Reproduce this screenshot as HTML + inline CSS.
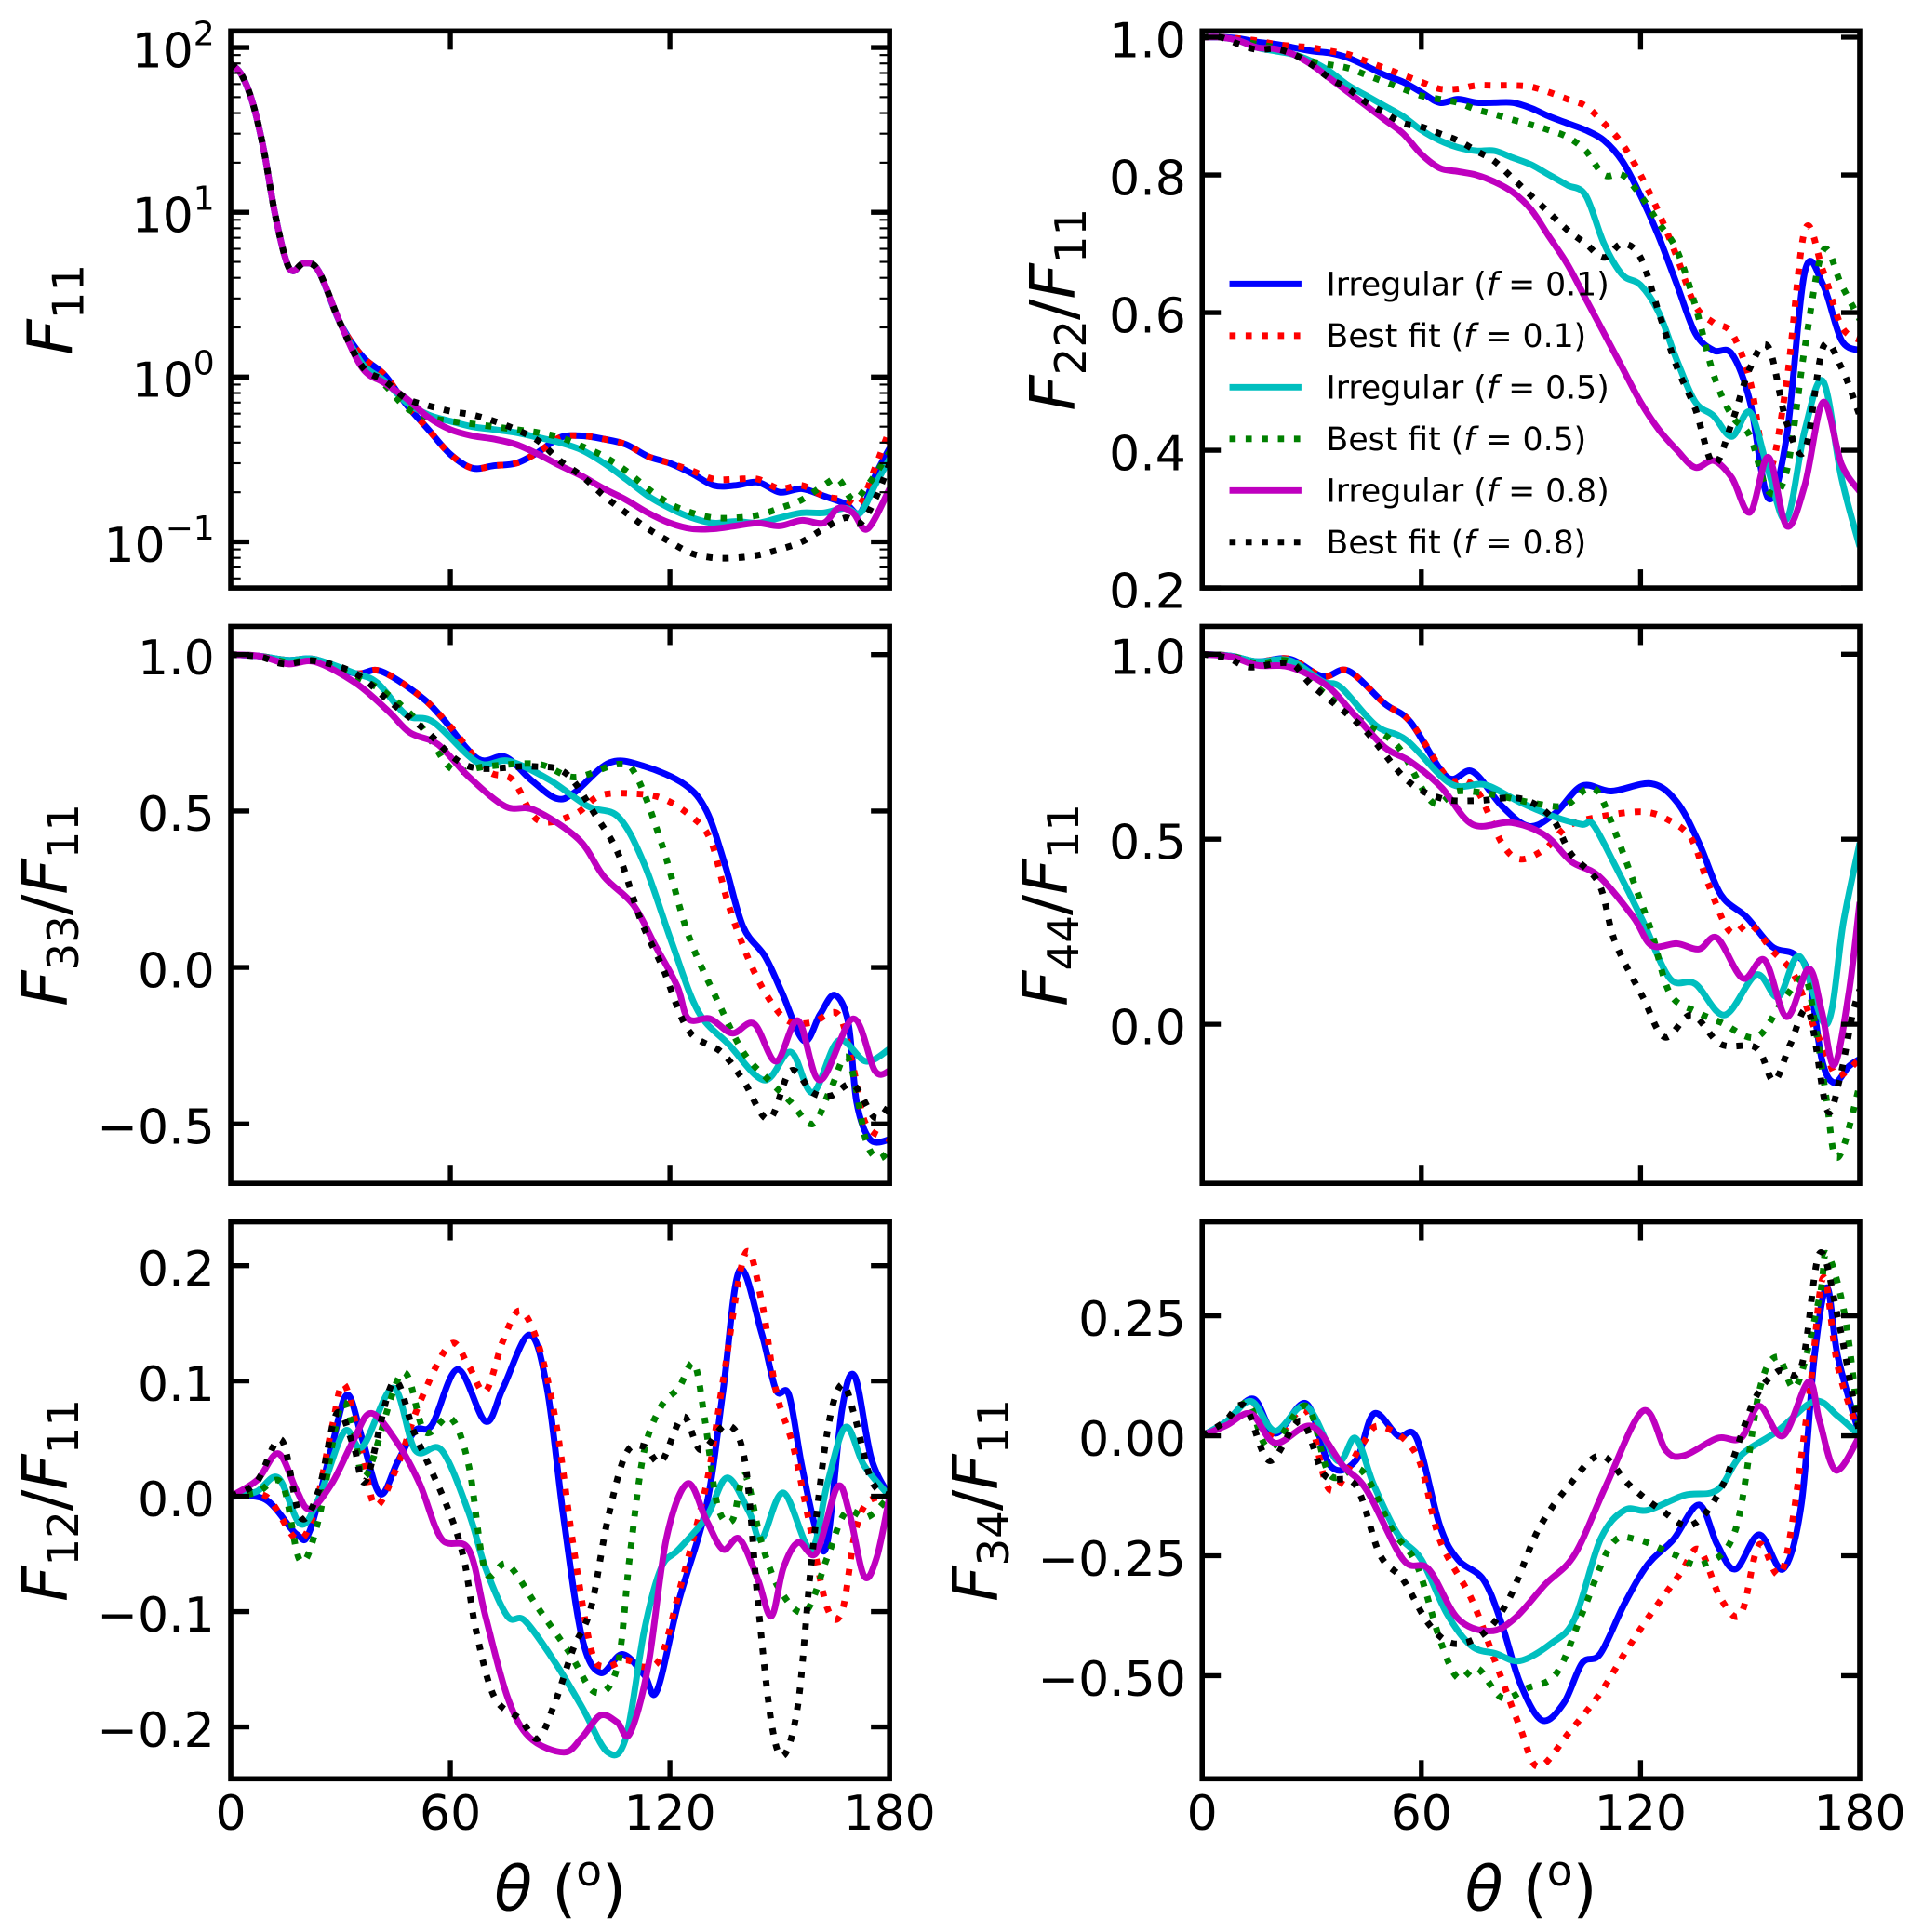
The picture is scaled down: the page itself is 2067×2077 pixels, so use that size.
<!DOCTYPE html>
<html><head><meta charset="utf-8">
<style>
html,body{margin:0;padding:0;background:#fff;}
svg{display:block;}
text{font-family:"DejaVu Sans","Liberation Sans",sans-serif;fill:#000;}
</style></head>
<body>
<svg id="fig" xmlns="http://www.w3.org/2000/svg" width="2067" height="2077" viewBox="0 0 1550 1557.5"></svg>
<script>
// ---------- data ----------
const xTickValues=[0,60,120,180];
const xTickLabels=['0','60','120','180'];
const seriesKinds=['Irregular','Best fit','Irregular','Best fit','Irregular','Best fit'];
const seriesF=['0.1','0.1','0.5','0.5','0.8','0.8'];

// F11 (log scale)
const f11Common=[[0,80],[3,68],[6,46],[9,24],[12,10],[15,5.2],[17,4.4],[20,4.9],[24,4.4],[30,2.1]];
const f11Blue=[[36,1.33],[42,1.03],[48,0.68],[54,0.48],[60,0.34],[66,0.28],[72,0.29],[78,0.30],[84,0.35],[90,0.43],[96,0.44],[102,0.42],[108,0.39],[114,0.33],[120,0.30],[126,0.26],[132,0.22],[138,0.22],[144,0.23],[150,0.20],[156,0.21],[162,0.19],[168,0.17],[172,0.15],[176,0.25],[180,0.37]];
const f11Red=[[36,1.33],[42,1.03],[48,0.68],[54,0.48],[60,0.34],[66,0.28],[72,0.29],[78,0.30],[84,0.35],[90,0.43],[96,0.44],[102,0.42],[108,0.39],[114,0.33],[120,0.30],[126,0.27],[132,0.24],[138,0.24],[144,0.24],[150,0.21],[156,0.22],[162,0.19],[168,0.18],[172,0.17],[176,0.28],[180,0.48]];
const f11Cyan=[[36,1.2],[42,0.95],[48,0.7],[54,0.59],[60,0.54],[66,0.5],[72,0.48],[78,0.46],[84,0.43],[90,0.40],[96,0.36],[102,0.30],[108,0.24],[114,0.19],[120,0.16],[126,0.14],[132,0.13],[138,0.133],[144,0.13],[150,0.14],[156,0.15],[162,0.15],[168,0.16],[172,0.15],[176,0.22],[180,0.32]];
const f11Green=[[36,1.15],[42,0.9],[48,0.65],[54,0.57],[60,0.54],[66,0.52],[72,0.5],[78,0.48],[84,0.46],[90,0.43],[96,0.38],[102,0.33],[108,0.27],[114,0.21],[120,0.17],[126,0.15],[132,0.14],[138,0.14],[144,0.145],[150,0.16],[156,0.18],[162,0.22],[166,0.24],[170,0.18],[174,0.22],[180,0.35]];
const f11Magenta=[[36,1.13],[42,0.92],[48,0.74],[54,0.57],[60,0.48],[66,0.44],[72,0.42],[78,0.39],[84,0.34],[90,0.29],[96,0.25],[102,0.21],[108,0.18],[114,0.15],[120,0.13],[126,0.12],[132,0.12],[138,0.125],[144,0.13],[150,0.125],[156,0.135],[162,0.13],[166,0.16],[170,0.15],[174,0.12],[180,0.21]];
const f11Black=[[36,1.15],[42,0.95],[48,0.74],[54,0.67],[60,0.62],[66,0.59],[72,0.54],[78,0.48],[84,0.41],[90,0.31],[96,0.25],[102,0.19],[108,0.15],[114,0.12],[120,0.10],[126,0.085],[132,0.08],[138,0.08],[144,0.083],[150,0.09],[156,0.10],[162,0.12],[168,0.14],[172,0.13],[176,0.18],[180,0.30]];
const f11TickExp=[-1,0,1,2];
const f11TickLabels=['\u22121','0','1','2'];

// F22/F11
const f22Theta=[0,5,10,15,20,25,30,35,40,45,50,55,60,65,70,75,80,85,90,95,100,105,110,115,120,125,130,135,140,145,150,155,160,165,170,175,180];
const f22Blue=[1,1,.998,.993,.99,.985,.98,.977,.97,.958,.945,.935,.92,.905,.91,.905,.905,.905,.897,.885,.875,.865,.85,.82,.77,.71,.64,.57,.545,.54,.47,.33,.42,.66,.64,.56,.545];
const f22Red=[1,1,.998,.995,.99,.987,.985,.98,.975,.965,.955,.945,.935,.925,.925,.93,.93,.93,.928,.92,.91,.90,.875,.845,.80,.745,.68,.61,.585,.57,.50,.37,.50,.72,.66,.58,.56];
const f22Cyan=[1,1,.995,.985,.98,.975,.965,.95,.93,.915,.90,.885,.865,.85,.84,.835,.835,.825,.815,.80,.785,.77,.70,.655,.64,.60,.53,.47,.45,.42,.455,.37,.30,.43,.50,.36,.26];
const f22Green=[1,1,.995,.99,.985,.975,.965,.96,.955,.945,.935,.925,.915,.91,.905,.895,.888,.88,.873,.865,.855,.835,.80,.80,.77,.73,.69,.61,.51,.45,.42,.34,.37,.55,.69,.64,.59];
const f22Magenta=[1,1,.995,.985,.983,.975,.96,.94,.92,.90,.88,.86,.83,.81,.805,.80,.79,.775,.75,.71,.67,.62,.57,.52,.47,.43,.40,.375,.385,.36,.31,.39,.29,.35,.47,.38,.34];
const f22Black=[1,1,.99,.982,.983,.975,.96,.94,.925,.905,.89,.875,.87,.86,.85,.835,.82,.795,.77,.745,.72,.70,.68,.70,.68,.60,.52,.46,.38,.44,.52,.55,.44,.40,.55,.52,.45];
const f22Ticks=[0.2,0.4,0.6,0.8,1.0];
const f22TickLabels=['0.2','0.4','0.6','0.8','1.0'];

// F33/F11
const f33Blue=[[0,1],[8,.995],[15.7,.982],[23,.985],[34,.94],[41,.947],[52,.865],[58,.795],[67.5,.667],[75,.673],[82,.60],[89,.54],[94,.56],[103.6,.655],[113,.643],[124,.585],[130,.50],[135,.33],[140,.13],[146,.035],[150.6,-.08],[156.6,-.234],[161,-.15],[165,-.088],[168.7,-.175],[171,-.43],[174.7,-.55],[180,-.55]];
const f33Red=[[0,1],[8,.995],[15.7,.982],[23,.985],[34,.94],[41,.947],[52,.865],[60,.77],[70,.63],[77,.60],[84,.47],[94,.49],[101,.55],[111,.555],[118,.54],[125,.49],[131,.41],[136,.20],[142,.012],[148,-.117],[153,-.175],[159,-.175],[166,-.15],[170,-.316],[173.5,-.50],[180,-.55]];
const f33Cyan=[[0,1],[8,.995],[15.7,.982],[23,.985],[34,.94],[40,.91],[48,.807],[55.4,.784],[67.5,.655],[76,.66],[87,.60],[97.6,.515],[106,.48],[113,.33],[120.5,.08],[127.7,-.14],[136,-.245],[145.8,-.36],[153,-.27],[159,-.40],[166,-.234],[173.5,-.30],[180,-.26]];
const f33Green=[[0,1],[8,.995],[15.7,.975],[23,.98],[34,.93],[42,.88],[50,.80],[55,.72],[61,.63],[70,.643],[84,.65],[94,.608],[106,.65],[111,.608],[118,.386],[125,.105],[132.5,-.094],[140,-.27],[147,-.36],[153,-.43],[159,-.50],[164,-.386],[168.7,-.29],[173.5,-.55],[177,-.61],[180,-.58]];
const f33Magenta=[[0,1],[8,.995],[15.7,.97],[23,.977],[34,.91],[43,.82],[49,.75],[56.6,.713],[65,.61],[75,.515],[83,.503],[95,.41],[102,.29],[110,.20],[116,.07],[122,-.06],[125,-.164],[131,-.164],[137,-.21],[143,-.18],[149,-.30],[155,-.17],[161,-.36],[170,-.164],[176,-.33],[180,-.33]];
const f33Black=[[0,1],[8,.993],[14.5,.97],[23,.98],[34,.94],[43,.854],[53,.76],[65,.643],[82,.643],[91.6,.62],[100,.48],[106,.36],[112,.152],[118,0],[125,-.2],[134,-.27],[140,-.36],[147,-.485],[153,-.33],[159,-.40],[164,-.41],[170,-.374],[176,-.48],[180,-.44]];
const f33Ticks=[-0.5,0,0.5,1.0];
const f33TickLabels=['\u22120.5','0.0','0.5','1.0'];

// F44/F11
const f44Blue=[[0,1],[8,.995],[15,.98],[24,.987],[33,.94],[40,.955],[50,.866],[57,.817],[67,.668],[74,.683],[82,.59],[89.5,.535],[96.6,.57],[104,.644],[112,.63],[123,.65],[130,.60],[136,.49],[142,.35],[149,.29],[156,.21],[162,.19],[166,.134],[169.6,-.094],[173,-.158],[177,-.114],[180,-.094]];
const f44Red=[[0,1],[8,.995],[15,.98],[24,.987],[33,.94],[40,.955],[50,.866],[57,.817],[67,.668],[72,.66],[76,.62],[82,.49],[87,.446],[94,.475],[100,.535],[108.6,.56],[120.6,.574],[128,.55],[134,.50],[138.5,.38],[144.5,.25],[150,.27],[156,.20],[162,.134],[167,.005],[171,-.084],[174,-.14],[180,-.094]];
const f44Cyan=[[0,1],[8,.995],[15,.98],[24,.983],[33,.926],[38,.91],[47.6,.807],[56,.767],[68,.65],[77.5,.647],[87,.60],[96.6,.56],[104,.54],[107,.54],[113,.43],[120.6,.28],[128,.124],[135,.109],[143,.025],[151.7,.134],[157.7,.074],[163.6,.183],[171,0],[175.6,.28],[180,.49]];
const f44Green=[[0,1],[8,.995],[15,.975],[24,.98],[32,.906],[44,.817],[53.6,.75],[63,.60],[70,.63],[80,.62],[89.5,.60],[99,.59],[105,.634],[108.6,.624],[113.4,.51],[119,.36],[123,.25],[128,.084],[135,.035],[142,.005],[151.7,-.035],[159,.064],[165,.124],[168,-.015],[171,-.21],[173,-.35],[175.6,-.33],[180,-.163]];
const f44Magenta=[[0,1],[8,.993],[15,.97],[24,.965],[34,.916],[41.6,.837],[50,.748],[57,.71],[65.5,.64],[74,.54],[84.7,.545],[94,.51],[101,.44],[108.6,.40],[118,.29],[123,.213],[130,.218],[136,.203],[141,.233],[148,.124],[154,.173],[160,.02],[166,.15],[169.6,.035],[173,-.11],[177,.084],[180,.33]];
const f44Black=[[0,1],[7,.99],[13,.965],[24,.975],[30,.916],[44,.80],[56,.66],[65.6,.61],[75,.604],[87,.61],[95.5,.56],[101,.46],[108.6,.38],[113,.223],[120.6,.074],[126.6,-.035],[134,.025],[142,-.054],[151.7,-.064],[156.5,-.153],[161,-.054],[166,.035],[171,-.23],[174.4,-.153],[178,.025],[180,.094]];
const f44Ticks=[0,0.5,1.0];
const f44TickLabels=['0.0','0.5','1.0'];

// F12/F11
const f12Blue=[[0,0],[9.6,-.003],[18,-.033],[21.6,-.03],[27.6,.043],[31.8,.088],[36,.049],[40.8,.002],[45.6,.03],[50.4,.057],[55,.062],[62,.11],[69.6,.065],[74.4,.094],[81.6,.14],[86.4,.094],[91,-.02],[96,-.123],[101,-.153],[107,-.137],[113,-.155],[116.4,-.169],[122.4,-.091],[130,-.008],[134.5,.091],[139,.196],[145,.142],[149,.092],[152.5,.088],[156,.027],[160,-.03],[163,-.04],[167,.075],[170.5,.104],[175,.033],[180,0]];
const f12Red=[[0,0],[9.6,0],[18,-.037],[22.8,-.014],[27.6,.059],[31,.097],[36,.037],[39.6,-.008],[45.6,.027],[51.6,.081],[60,.132],[65,.113],[69.6,.091],[74.4,.135],[79,.161],[84,.132],[88.8,.065],[93.6,-.043],[98.4,-.132],[102,-.148],[108,-.142],[113,-.148],[117.6,-.139],[122.4,-.084],[130,.011],[134.5,.10],[140.5,.21],[145,.17],[149,.091],[153.7,.043],[158.5,-.03],[163,-.097],[167,-.10],[170.5,-.033],[174,-.005],[180,0]];
const f12Cyan=[[0,0],[7,.004],[13,.016],[19,-.024],[24,-.002],[31,.056],[36,.043],[44.4,.094],[50.4,.04],[57.6,.04],[65,-.014],[69.6,-.062],[75.6,-.104],[80.4,-.108],[88.8,-.145],[96,-.183],[103,-.222],[108,-.209],[113,-.116],[117.6,-.062],[122.4,-.046],[130,-.018],[135.6,.016],[141.7,-.014],[145,-.037],[151,.003],[158.5,-.046],[163,.011],[168,.06],[173,.027],[180,0]];
const f12Green=[[0,0],[7,.003],[14,.011],[19,-.056],[24,-.02],[30,.078],[33.6,.056],[37,.018],[46.8,.107],[53,.056],[60,.068],[65,.027],[69.6,-.065],[75.6,-.059],[84,-.097],[92.4,-.135],[99.6,-.17],[105.6,-.148],[109,-.053],[112.8,.037],[117.6,.078],[122.4,.094],[126.6,.115],[129.6,.065],[133,-.008],[137,-.021],[140.5,.018],[145,-.04],[150,-.081],[157,-.10],[163,-.053],[168,-.014],[174,-.018],[180,0]];
const f12Magenta=[[0,0],[7.2,.014],[13,.037],[18,.005],[21.6,-.011],[27.6,.011],[33.6,.049],[38.4,.072],[45.6,.046],[51.6,.011],[57.6,-.037],[65,-.046],[69.6,-.104],[75.6,-.174],[81.6,-.209],[91,-.222],[96,-.209],[101,-.19],[105.6,-.196],[109,-.206],[114,-.148],[119,-.037],[124.8,.011],[130,-.021],[134.5,-.046],[139,-.037],[144,-.072],[147.7,-.104],[151,-.062],[155,-.04],[160,-.049],[165.7,.008],[169,-.014],[173,-.069],[176.5,-.053],[180,0]];
const f12Black=[[0,0],[7,.012],[13.8,.049],[19,-.018],[24,.005],[29,.072],[33.6,.043],[37,.014],[44.4,.099],[50.4,.053],[59,-.008],[63.6,-.053],[67,-.116],[72,-.174],[79,-.193],[84,-.21],[88.8,-.177],[93.6,-.132],[98.4,-.097],[103,-.02],[108,.037],[113,.043],[117.6,.03],[123.6,.069],[128.5,.04],[135.6,.062],[140.5,.03],[144,-.091],[147.7,-.196],[151,-.225],[155,-.18],[158.5,-.062],[163,.056],[167,.097],[170.5,.069],[175,.014],[180,0]];
const f12Ticks=[-0.2,-0.1,0,0.1,0.2];
const f12TickLabels=['\u22120.2','\u22120.1','0.0','0.1','0.2'];

// F34/F11
const f34Blue=[[0,0],[6.7,.03],[14,.077],[20,.005],[28.5,.067],[35,-.062],[42,-.052],[47,.046],[53.6,0],[58.7,-.005],[65,-.186],[70,-.258],[77,-.30],[82,-.392],[87,-.515],[93,-.593],[99,-.557],[104,-.474],[109,-.454],[115.6,-.35],[122,-.268],[129,-.216],[136,-.144],[141,-.227],[146,-.278],[152.5,-.206],[159,-.278],[164,-.144],[167.6,.165],[171,.309],[174,.165],[180,0]];
const f34Red=[[0,0],[6.7,.03],[13.4,.072],[20,0],[28.5,.052],[35,-.113],[43.6,-.02],[48.6,.02],[58.7,-.04],[65,-.216],[73.7,-.34],[80.4,-.474],[87,-.608],[92,-.69],[100.5,-.618],[109,-.536],[115.6,-.454],[122,-.38],[130.7,-.289],[136,-.237],[142,-.34],[147.5,-.371],[152.5,-.227],[159,-.278],[166,.072],[170,.33],[174,.144],[180,0]];
const f34Cyan=[[0,0],[6.7,.03],[13.4,.072],[20,.01],[28.5,.062],[37,-.052],[42,-.005],[47,-.103],[53.6,-.206],[60,-.258],[67,-.371],[73.7,-.438],[80.4,-.454],[87,-.469],[95.5,-.433],[102,-.381],[109,-.216],[115.6,-.155],[122,-.155],[132,-.124],[141,-.113],[147.5,-.041],[157.5,.01],[167.6,.072],[174,.041],[180,0]];
const f34Green=[[0,0],[6.5,.028],[12.6,.067],[18.4,-.026],[28.5,.062],[35,-.082],[43.6,-.072],[52,-.196],[58.7,-.268],[65,-.423],[70,-.505],[75.4,-.485],[82,-.546],[89,-.526],[97,-.495],[104,-.371],[112,-.227],[119,-.216],[129,-.247],[137,-.268],[146,-.196],[152.5,.093],[157.5,.165],[162.6,.103],[169,.289],[171,.38],[176,.247],[180,0]];
const f34Magenta=[[0,0],[6.7,.022],[13.4,.046],[20,-.015],[30,.02],[38.5,-.062],[45,-.113],[55,-.258],[62,-.278],[70,-.381],[78.8,-.407],[85.5,-.381],[94,-.309],[102,-.247],[110.6,-.103],[120.7,.052],[127,-.031],[132,-.041],[141,-.005],[147.5,-.005],[152.5,.062],[159,0],[166,.113],[169,.031],[173.5,-.072],[180,0]];
const f34Black=[[0,0],[6,.028],[11.7,.062],[18.4,-.052],[27,.031],[33.5,-.082],[42,-.103],[48.6,-.247],[55,-.30],[62,-.392],[68.7,-.433],[77,-.412],[84,-.34],[92,-.196],[100.5,-.103],[109,-.041],[117,-.103],[125.7,-.155],[134,-.186],[142.5,-.103],[151,.072],[157.5,.134],[164,.144],[169,.38],[174,.247],[180,0]];
const f34Ticks=[-0.5,-0.25,0,0.25];
const f34TickLabels=['\u22120.50','\u22120.25','0.00','0.25'];

// ---------- rendering ----------
const NS='http://www.w3.org/2000/svg';
const svg=document.getElementById('fig');
function mk(tag,attrs,parent){const e=document.createElementNS(NS,tag);for(const k in attrs)e.setAttribute(k,attrs[k]);(parent||svg).appendChild(e);return e;}
const styles=[
 {c:'#0000ff',dot:false,key:'irregular-f01'},
 {c:'#ff0000',dot:true,key:'best-fit-f01'},
 {c:'#00bfbf',dot:false,key:'irregular-f05'},
 {c:'#008000',dot:true,key:'best-fit-f05'},
 {c:'#bf00bf',dot:false,key:'irregular-f08'},
 {c:'#000000',dot:true,key:'best-fit-f08'}];
const zip=(t,v)=>t.map((x,i)=>[x,v[i]]);
const LX=[186,717], RX=[969,1499];
const R1=[25,474], R2=[505,954], R3=[985,1434];
const panels=[
 {id:'f11',xr:LX,yr:R1,log:true,ymin:-1.28,ymax:2.10,lx:58,series:[f11Common.concat(f11Blue),f11Common.concat(f11Red),f11Common.concat(f11Cyan),f11Common.concat(f11Green),f11Common.concat(f11Magenta),f11Common.concat(f11Black)],sub1:'11',sub2:null,bottom:false},
 {id:'f22',xr:RX,yr:R1,ymin:0.2,ymax:1.009,lx:866,ticks:f22Ticks,labels:f22TickLabels,series:[zip(f22Theta,f22Blue),zip(f22Theta,f22Red),zip(f22Theta,f22Cyan),zip(f22Theta,f22Green),zip(f22Theta,f22Magenta),zip(f22Theta,f22Black)],sub1:'22',sub2:'11',bottom:false,legend:true},
 {id:'f33',xr:LX,yr:R2,ymin:-0.69,ymax:1.09,lx:54,ticks:f33Ticks,labels:f33TickLabels,series:[f33Blue,f33Red,f33Cyan,f33Green,f33Magenta,f33Black],sub1:'33',sub2:'11',bottom:false},
 {id:'f44',xr:RX,yr:R2,ymin:-0.43,ymax:1.075,lx:860,ticks:f44Ticks,labels:f44TickLabels,series:[f44Blue,f44Red,f44Cyan,f44Green,f44Magenta,f44Black],sub1:'44',sub2:'11',bottom:false},
 {id:'f12',xr:LX,yr:R3,ymin:-0.245,ymax:0.238,lx:54,ticks:f12Ticks,labels:f12TickLabels,series:[f12Blue,f12Red,f12Cyan,f12Green,f12Magenta,f12Black],sub1:'12',sub2:'11',bottom:true},
 {id:'f34',xr:RX,yr:R3,ymin:-0.715,ymax:0.446,lx:804,ticks:f34Ticks,labels:f34TickLabels,series:[f34Blue,f34Red,f34Cyan,f34Green,f34Magenta,f34Black],sub1:'34',sub2:'11',bottom:true}
];
function smoothPath(pts){
 let d='M'+pts[0][0].toFixed(2)+','+pts[0][1].toFixed(2);
 for(let i=0;i<pts.length-1;i++){
  const p0=pts[i-1]||pts[i],p1=pts[i],p2=pts[i+1],p3=pts[i+2]||p2;
  const c1=[p1[0]+(p2[0]-p0[0])/6,p1[1]+(p2[1]-p0[1])/6];
  const c2=[p2[0]-(p3[0]-p1[0])/6,p2[1]-(p3[1]-p1[1])/6];
  d+='C'+c1[0].toFixed(2)+','+c1[1].toFixed(2)+' '+c2[0].toFixed(2)+','+c2[1].toFixed(2)+' '+p2[0].toFixed(2)+','+p2[1].toFixed(2);
 }
 return d;
}
const defs=mk('defs',{});
panels.forEach((p,pi)=>{
 const [x0,x1]=p.xr,[y0,y1]=p.yr;
 const sx=t=>x0+(t/180)*(x1-x0);
 const sy=v=>{const u=p.log?Math.log10(v):v;return y1-(u-p.ymin)/(p.ymax-p.ymin)*(y1-y0);};
 const g=mk('g',{});
 
 
 const cp=mk('clipPath',{id:'clip'+pi},defs);
 mk('rect',{x:x0,y:y0,width:x1-x0,height:y1-y0},cp);
 const lines=mk('g',{'clip-path':'url(#clip'+pi+')'},g);
 
 
 p.series.forEach((s,si)=>{
  const st=styles[si];
  const pts=s.map(d=>[sx(d[0]),sy(d[1])]);
  const path=mk('path',{d:smoothPath(pts),fill:'none',stroke:st.c,'stroke-width':5.2,'stroke-dasharray':st.dot?'5 8':'none','stroke-linejoin':'round'},lines);
  
  
 });
 xTickValues.forEach((t,i)=>{
  if(t>0&&t<180){
   const tk1=mk('line',{x1:sx(t),x2:sx(t),y1:y1,y2:y1-15,stroke:'#000','stroke-width':4},g);
   
   
   const tk2=mk('line',{x1:sx(t),x2:sx(t),y1:y0,y2:y0+15,stroke:'#000','stroke-width':4},g);
   
   
  }
  if(p.bottom){
   const tl=mk('text',{x:sx(t),y:y1+41,'font-size':39,'text-anchor':'middle'},g);
   tl.textContent=xTickLabels[i];
   
   
  }
 });
 if(p.log){
  for(let e=-2;e<=2;e++){
   for(let m=1;m<=9;m++){
    const v=m*Math.pow(10,e);const lv=Math.log10(v);
    if(lv<p.ymin||lv>p.ymax)continue;
    const len=m===1?15:8,w=m===1?4:1.6;
    const a=mk('line',{x1:x0,x2:x0+len,y1:sy(v),y2:sy(v),stroke:'#000','stroke-width':w},g);
    
    
    const b=mk('line',{x1:x1,x2:x1-len,y1:sy(v),y2:sy(v),stroke:'#000','stroke-width':w},g);
    
    
   }
  }
  f11TickExp.forEach((e,i)=>{
   const y=sy(Math.pow(10,e));
   const t=mk('text',{x:x0-13,y:y+16,'font-size':39,'text-anchor':'end'},g);
   
   
   const a=mk('tspan',{},t);a.textContent='10';
   const b=mk('tspan',{dy:-18,'font-size':27},t);b.textContent=f11TickLabels[i];
  });
 } else {
  p.ticks.forEach((v,i)=>{
   const y=sy(v);
   const a=mk('line',{x1:x0,x2:x0+15,y1:y,y2:y,stroke:'#000','stroke-width':4},g);
   
   
   const b=mk('line',{x1:x1,x2:x1-15,y1:y,y2:y,stroke:'#000','stroke-width':4},g);
   
   
   const t=mk('text',{x:x0-13,y:y+16,'font-size':39,'text-anchor':'end'},g);
   t.textContent=p.labels[i];
   
   
  });
 }
 const fr=mk('rect',{x:x0,y:y0,width:x1-x0,height:y1-y0,fill:'none',stroke:'#000','stroke-width':4.2},g);
 
 
 const lx=p.lx;
 const cy=(y0+y1)/2;
 const yl=mk('text',{x:lx,y:cy,'font-size':50,'text-anchor':'middle',transform:'rotate(-90 '+lx+' '+cy+')'},g);
 
 
 let s1=mk('tspan',{'font-style':'italic'},yl);s1.textContent='F';
 let s2=mk('tspan',{'font-size':35,dy:9},yl);s2.textContent=p.sub1;
 if(p.sub2){
  let s3=mk('tspan',{dy:-9},yl);s3.textContent='/';
  let s4=mk('tspan',{'font-style':'italic'},yl);s4.textContent='F';
  let s5=mk('tspan',{'font-size':35,dy:9},yl);s5.textContent=p.sub2;
 }
 if(p.bottom){
  const cx=(x0+x1)/2;
  const xl=mk('text',{x:cx,y:1540,'font-size':50,'text-anchor':'middle'},g);
  
  
  const a=mk('tspan',{'font-style':'italic'},xl);a.textContent='\u03b8';
  const b=mk('tspan',{},xl);b.textContent=' (';
  const c=mk('tspan',{'font-size':34,dy:-20},xl);c.textContent='o';
  const d=mk('tspan',{dy:20},xl);d.textContent=')';
 }
 if(p.legend){
  const lg=mk('g',{},g);
  
  
  styles.forEach((st,i)=>{
   const y=229+i*41.6;
   const e=mk('g',{},lg);
   
   
   mk('line',{x1:991,x2:1049,y1:y,y2:y,stroke:st.c,'stroke-width':5.2,'stroke-dasharray':st.dot?'5 8':'none'},e);
   const t=mk('text',{x:1069,y:y+9,'font-size':26},e);
   const a=mk('tspan',{},t);a.textContent=seriesKinds[i]+' (';
   const b=mk('tspan',{'font-style':'italic'},t);b.textContent='f';
   const c=mk('tspan',{},t);c.textContent=' = '+seriesF[i]+')';
  });
 }
});
</script>
</body></html>
